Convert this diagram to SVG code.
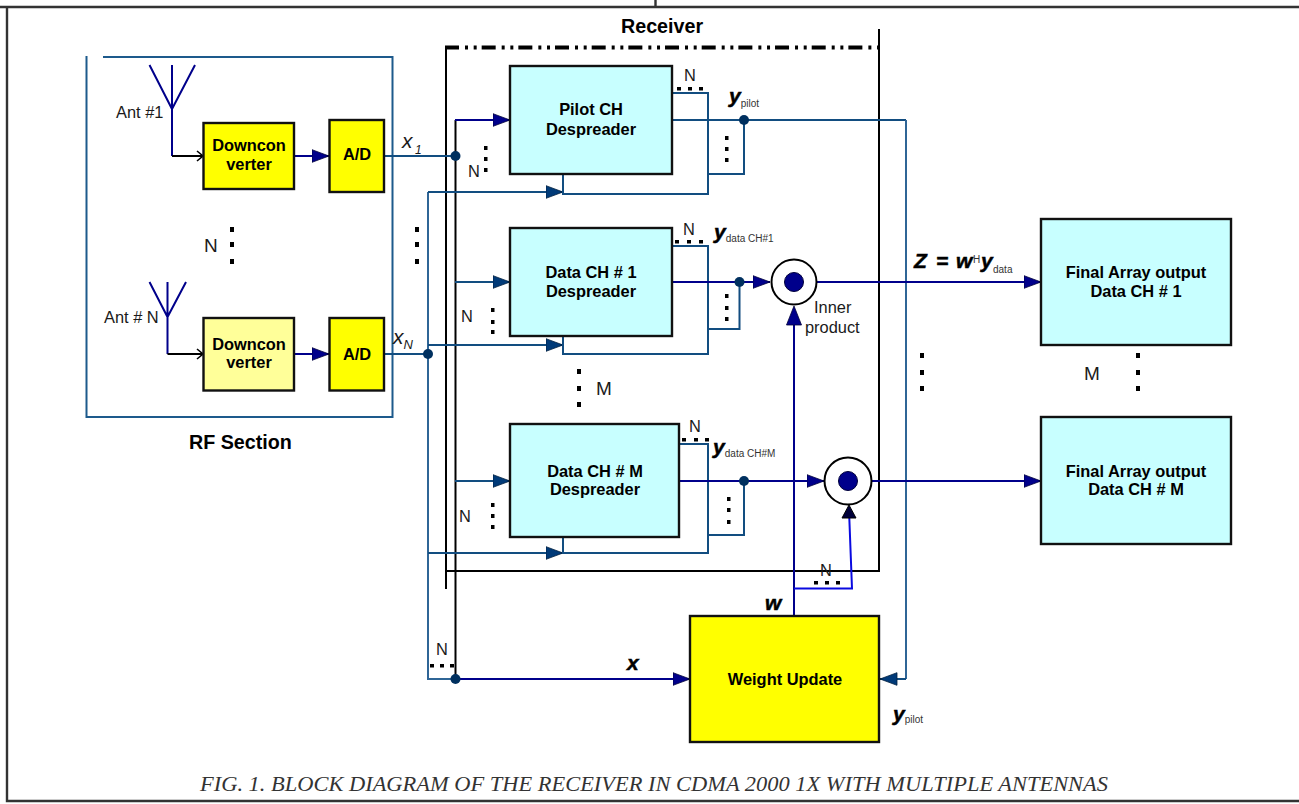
<svg xmlns="http://www.w3.org/2000/svg" width="1299" height="804" viewBox="0 0 1299 804">
<style>
text{font-family:"Liberation Sans",Arial,sans-serif;fill:#1a1a1a}
.b{font-weight:bold;font-size:16.4px;fill:#000;text-anchor:middle}
.t{font-weight:bold;font-size:19.7px;fill:#000}
.l{font-size:16.4px}
.n{font-size:19px}
.v{font-weight:bold;font-style:italic;font-size:21px;fill:#000;stroke:#000;stroke-width:.5}
.s{font-size:10px;fill:#333}
.i{font-style:italic;font-size:21px}
.box{stroke:#111;stroke-width:2.4}
.cy{fill:#c8ffff}
.ye{fill:#ffff00}
.ly{fill:#ffff99}
path,line{fill:none}
.nv{stroke:#00008b;stroke-width:2}
.st{stroke:#124d80;stroke-width:2}
.lt{stroke:#2f6596;stroke-width:2}
.bk{stroke:#000;stroke-width:2}
.br{stroke:#0a0ae0;stroke-width:2}
.a{marker-end:url(#an)}
.c{marker-end:url(#ac)}
.o{marker-end:url(#ao)}
.d{fill:#00305f}
.q{fill:#000}
</style>
<defs>
<marker id="an" markerUnits="userSpaceOnUse" markerWidth="19" markerHeight="15" refX="17.5" refY="7" orient="auto"><path d="M0.5 .7L17.5 7L0.5 13.3Z" style="fill:#00008b;stroke:#00003a;stroke-width:.8"/></marker>
<marker id="ac" markerUnits="userSpaceOnUse" markerWidth="19" markerHeight="15" refX="17.5" refY="7" orient="auto"><path d="M0.5 .7L17.5 7L0.5 13.3Z" style="fill:#003a78;stroke:#00203f;stroke-width:.8"/></marker>
<marker id="ao" markerUnits="userSpaceOnUse" markerWidth="9" markerHeight="13" refX="7" refY="6" orient="auto"><path d="M1 1L7 6L1 11" style="fill:none;stroke:#000;stroke-width:1.6"/></marker>
</defs>

<g id="frame">
<path d="M0 7H1299M7 7V801H1299M655.5 0V7" style="stroke:#333;stroke-width:2.4"/>
</g>

<g id="rf-section">
<path d="M86.5 56V417H392.5V57H103" style="stroke:#1d5a8c;stroke-width:2"/>
<text class="t" x="189" y="449">RF Section</text>
</g>

<g id="receiver-frame">
<path d="M445 47.5H879" style="stroke:#000;stroke-width:4;stroke-dasharray:14 6 3 5.67 3 5"/>
<path d="M446 47V589M879 29V571H446" class="bk"/>
<text class="t" x="621" y="33">Receiver</text>
</g>

<g id="connectors">
<path class="nv" d="M149.5 65L172 109L195 65M172 65V156"/>
<path class="bk o" d="M172 156H203"/>
<path class="nv" d="M149.5 282L167.5 317L186 282M167.5 282V354"/>
<path class="bk o" d="M167.5 354H203"/>
<path class="nv a" d="M294 156H329"/>
<path class="nv a" d="M294 354H329"/>
<path class="st" d="M384 156H455"/>
<path class="st" d="M384 354H428"/>
<path class="bk" d="M455.5 120V679"/>
<path class="lt" d="M428 192V679H455"/>
<path class="nv a" d="M455 679H690"/>
<path class="nv a" d="M455 120H510"/>
<path class="st c" d="M455 282H510"/>
<path class="st c" d="M455 481H510"/>
<path class="st c" d="M428 192H563"/>
<path class="st c" d="M428 345H563"/>
<path class="st c" d="M428 553H563"/>
<path class="st" d="M672 93H708V194H563V174"/>
<path class="st" d="M708 174H744V120"/>
<path class="st" d="M672 120H906"/>
<path class="lt" d="M906 120V679"/>
<path class="st c" d="M906 679H880"/>
<path class="st" d="M672 246H708V354H563V334"/>
<path class="st" d="M708 329H739.5V282"/>
<path class="nv a" d="M672 282H770"/>
<path class="nv a" d="M817 282H1041"/>
<path class="st" d="M679 444H708V553H563V533"/>
<path class="st" d="M708 535H744V481"/>
<path class="nv a" d="M679 481H824"/>
<path class="nv a" d="M872 481H1041"/>
<path class="nv" d="M794 616V322"/>
<path d="M786.5 325L794 306L801.5 325Z" style="fill:#00008b;stroke:#00003a;stroke-width:.8"/>
<path class="br" d="M794 588.5H852L849 510"/>
<path d="M842 518L849 505L856 518Z" style="fill:#00003a;stroke:#000;stroke-width:1"/>
<circle class="d" cx="455.5" cy="156" r="5"/>
<circle class="d" cx="428" cy="354" r="5"/>
<circle class="d" cx="455.5" cy="679" r="5"/>
<circle class="d" cx="744" cy="120" r="5"/>
<circle class="d" cx="739.5" cy="282" r="5"/>
<circle class="d" cx="744" cy="481" r="5"/>
</g>

<g id="downconverter-1"><rect class="box ye" x="203.5" y="123" width="90.5" height="66"/><text class="b" x="249" y="151">Downcon</text><text class="b" x="249" y="170">verter</text></g>
<g id="ad-1"><rect class="box ye" x="329.5" y="120" width="54.5" height="72"/><text class="b" x="357" y="160">A/D</text></g>
<g id="downconverter-n"><rect class="box ly" x="203.5" y="318" width="90.5" height="72.5"/><text class="b" x="249" y="350">Downcon</text><text class="b" x="249" y="368">verter</text></g>
<g id="ad-n"><rect class="box ye" x="329.5" y="318" width="54.5" height="72.5"/><text class="b" x="357" y="360">A/D</text></g>
<g id="pilot-despreader"><rect class="box cy" x="510" y="66" width="162" height="108"/><text class="b" x="591" y="115">Pilot CH</text><text class="b" x="591" y="135">Despreader</text></g>
<g id="data1-despreader"><rect class="box cy" x="510" y="228" width="162" height="108"/><text class="b" x="591" y="278">Data CH # 1</text><text class="b" x="591" y="297">Despreader</text></g>
<g id="datam-despreader"><rect class="box cy" x="510" y="424" width="169" height="113"/><text class="b" x="595" y="477">Data CH # M</text><text class="b" x="595" y="495">Despreader</text></g>
<g id="inner-product-1"><circle cx="794" cy="282" r="22.5" style="fill:#fff;stroke:#000;stroke-width:2"/><circle cx="794" cy="282" r="9.5" style="fill:#00008b;stroke:#00003a;stroke-width:1"/></g>
<g id="inner-product-m"><circle cx="848" cy="481" r="23.5" style="fill:#fff;stroke:#000;stroke-width:2"/><circle cx="848" cy="481" r="9.5" style="fill:#00008b;stroke:#00003a;stroke-width:1"/></g>
<g id="final-1"><rect class="box cy" x="1041" y="219" width="190" height="126"/><text class="b" x="1136" y="278">Final Array output</text><text class="b" x="1136" y="297">Data CH # 1</text></g>
<g id="final-m"><rect class="box cy" x="1041" y="417" width="190" height="127"/><text class="b" x="1136" y="477">Final Array output</text><text class="b" x="1136" y="495">Data CH # M</text></g>
<g id="weight-update"><rect class="box ye" x="690" y="616" width="189" height="126"/><text class="b" x="785" y="685">Weight Update</text></g>

<g id="labels">
<text class="l" x="116" y="118">Ant #1</text>
<text class="l" x="104" y="323">Ant # N</text>
<text class="i" x="402" y="148">x</text><text class="i" x="415" y="154" style="font-size:12px">1</text>
<text class="i" x="393" y="344">x</text><text class="i" x="403.5" y="349" style="font-size:13px">N</text>
<text class="n" x="204" y="252">N</text>
<text class="l" x="468" y="177">N</text>
<text class="l" x="461" y="322">N</text>
<text class="l" x="459" y="522">N</text>
<text class="n" x="596" y="395">M</text>
<text class="l" x="684" y="81">N</text>
<text class="l" x="683" y="235">N</text>
<text class="l" x="689" y="432">N</text>
<text class="l" x="820" y="576">N</text>
<text class="l" x="436" y="655">N</text>
<text class="n" x="1084" y="380">M</text>
<text class="v" x="729" y="103">y</text><text class="s" x="740.8" y="106.5">pilot</text>
<text class="v" x="714" y="239">y</text><text class="s" x="725.8" y="241.5">data CH#1</text>
<text class="v" x="713" y="454">y</text><text class="s" x="724.8" y="456.5">data CH#M</text>
<text class="v" x="893" y="720.5">y</text><text class="s" x="904.8" y="722.5">pilot</text>
<text class="l" x="814" y="313">Inner</text>
<text class="l" x="805" y="333">product</text>
<text class="v" x="914" y="268">Z</text><text class="v" x="936" y="268">=</text><text class="v" x="956" y="268">w</text><text class="s" x="973" y="263">H</text><text class="v" x="981" y="268">y</text><text class="s" x="993" y="272.5">data</text>
<text class="v" x="765" y="610">w</text>
<text class="v" x="627" y="670">x</text>
<text x="200" y="791" textLength="908" lengthAdjust="spacingAndGlyphs" style="font-family:'Liberation Serif','Times New Roman',serif;font-style:italic;font-size:22px;fill:#333">FIG. 1. BLOCK DIAGRAM OF THE RECEIVER IN CDMA 2000 1X WITH MULTIPLE ANTENNAS</text>
</g>

<g id="ellipsis-dots" class="q">
<rect x="230" y="227" width="4" height="5"/><rect x="230" y="242" width="4" height="5"/><rect x="230" y="259" width="4" height="5"/>
<rect x="415" y="227" width="4" height="5"/><rect x="415" y="242" width="4" height="5"/><rect x="415" y="259" width="4" height="5"/>
<rect x="484" y="146" width="3.5" height="4"/><rect x="484" y="157" width="3.5" height="4"/><rect x="484" y="168" width="3.5" height="4"/>
<rect x="491" y="308" width="3.5" height="4"/><rect x="491" y="320" width="3.5" height="4"/><rect x="491" y="330" width="3.5" height="4"/>
<rect x="491" y="503" width="3.5" height="4"/><rect x="491" y="514" width="3.5" height="4"/><rect x="491" y="525" width="3.5" height="4"/>
<rect x="577" y="369" width="4" height="5"/><rect x="577" y="386" width="4" height="5"/><rect x="577" y="402" width="4" height="5"/>
<rect x="725" y="136" width="3.5" height="4"/><rect x="725" y="147" width="3.5" height="4"/><rect x="725" y="158" width="3.5" height="4"/>
<rect x="725" y="294" width="3.5" height="4"/><rect x="725" y="306" width="3.5" height="4"/><rect x="725" y="317" width="3.5" height="4"/>
<rect x="727" y="497" width="3.5" height="4"/><rect x="727" y="508" width="3.5" height="4"/><rect x="727" y="520" width="3.5" height="4"/>
<rect x="677" y="87" width="4" height="3.5"/><rect x="688" y="87" width="4" height="3.5"/><rect x="699" y="87" width="4" height="3.5"/>
<rect x="675" y="240" width="4" height="3.5"/><rect x="687" y="240" width="4" height="3.5"/><rect x="699" y="240" width="4" height="3.5"/>
<rect x="682" y="438" width="4" height="3.5"/><rect x="694" y="438" width="4" height="3.5"/><rect x="705" y="438" width="4" height="3.5"/>
<rect x="814" y="581" width="4" height="3.5"/><rect x="825" y="581" width="4" height="3.5"/><rect x="836" y="581" width="4" height="3.5"/>
<rect x="430" y="664" width="4" height="3.5"/><rect x="440" y="664" width="4" height="3.5"/><rect x="450" y="664" width="4" height="3.5"/>
<rect x="920" y="353" width="4" height="5"/><rect x="920" y="370" width="4" height="5"/><rect x="920" y="386" width="4" height="5"/>
<rect x="1136" y="353" width="4" height="5"/><rect x="1136" y="370" width="4" height="5"/><rect x="1136" y="386" width="4" height="5"/>
</g>
</svg>
